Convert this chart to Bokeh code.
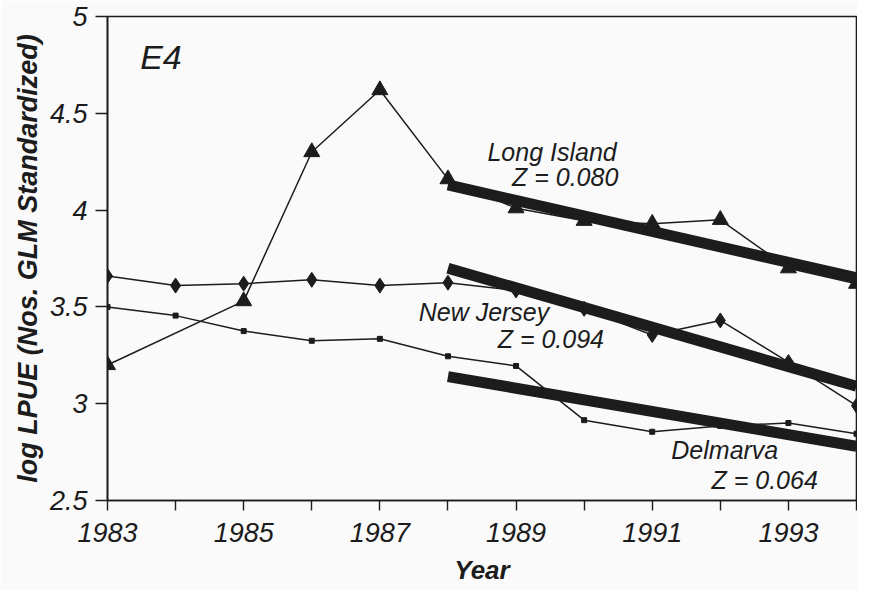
from bokeh.plotting import figure
from bokeh.models import Range1d, FixedTicker, Label
from bokeh.embed import file_html
from bokeh.resources import INLINE

# ---- data ----
years = [1983, 1984, 1985, 1986, 1987, 1988, 1989, 1990, 1991, 1992, 1993, 1994]

li_years = [1983, 1985, 1986, 1987, 1988, 1989, 1990, 1991, 1992, 1993, 1994]
long_island = [3.20, 3.53, 4.30, 4.62, 4.16, 4.01, 3.945, 3.93, 3.95, 3.70, 3.62]

new_jersey = [3.66, 3.61, 3.62, 3.64, 3.61, 3.625, 3.585, 3.49, 3.355, 3.43, 3.215, 2.99]

delmarva = [3.50, 3.455, 3.375, 3.325, 3.335, 3.245, 3.195, 2.915, 2.855, 2.885, 2.90, 2.845]

fit_years = [1988, 1994]
li_fit = [4.13, 3.65]
nj_fit = [3.70, 3.09]
dm_fit = [3.14, 2.78]

x_tick_vals = years
x_tick_labels = ["1983", "", "1985", "", "1987", "", "1989", "", "1991", "", "1993", ""]
y_tick_vals = [2.5, 3, 3.5, 4, 4.5, 5]
y_tick_labels = ["2.5", "3", "3.5", "4", "4.5", "5"]

FONT = "Liberation Sans"
INK = "#1c1c1c"
BG = "#fafafa"

p = figure(width=857, height=590, output_backend="svg", toolbar_location=None,
           x_range=Range1d(1983, 1994), y_range=Range1d(2.5, 5),
           min_border_left=107, min_border_right=1, min_border_top=16, min_border_bottom=90)
p.background_fill_color = BG
p.border_fill_color = BG
p.grid.visible = False
p.outline_line_color = INK
p.outline_line_width = 1.6

# axes
p.xaxis.ticker = FixedTicker(ticks=x_tick_vals)
p.xaxis.major_label_overrides = {v: l for v, l in zip(x_tick_vals, x_tick_labels)}
p.yaxis.ticker = FixedTicker(ticks=y_tick_vals)
p.yaxis.major_label_overrides = {v: l for v, l in zip(y_tick_vals, y_tick_labels)}
for ax in (p.xaxis, p.yaxis):
    ax.axis_line_color = INK
    ax.axis_line_width = 1.6
    ax.major_tick_line_color = INK
    ax.major_tick_line_width = 1.4
    ax.major_tick_in = 0
    ax.minor_tick_line_color = None
    ax.major_label_text_font = FONT
    ax.major_label_text_font_style = "italic"
    ax.major_label_text_font_size = "27px"
    ax.major_label_text_color = INK
    ax.axis_label_text_font = FONT
    ax.axis_label_text_font_style = "bold italic"
    ax.axis_label_text_color = INK
p.xaxis.axis_label_text_font_size = "26px"
p.yaxis.axis_label_text_font_size = "27px"
p.xaxis.major_tick_out = 10
p.yaxis.major_tick_out = 12
p.xaxis.major_label_standoff = 12
p.yaxis.major_label_standoff = 8
p.xaxis.axis_label = "Year"
p.xaxis.axis_label_standoff = 10
p.yaxis.axis_label = "log LPUE (Nos. GLM Standardized)"
p.yaxis.axis_label_standoff = 4

# thin series lines
p.line(li_years, long_island, line_color=INK, line_width=1.5)
p.line(years, new_jersey, line_color=INK, line_width=1.5)
p.line(years, delmarva, line_color=INK, line_width=1.5)

# regression lines
for fit in (li_fit, nj_fit, dm_fit):
    p.line(fit_years, fit, line_color=INK, line_width=11)

# markers
p.scatter(li_years, long_island, marker="triangle", size=16, fill_color=INK, line_color=INK)
p.scatter(years, new_jersey, marker="diamond", size=15, fill_color=INK, line_color=INK)
p.scatter(years, delmarva, marker="square", size=5, fill_color=INK, line_color=INK)

# annotations
def lab(x, y, t, size="25px"):
    p.add_layout(Label(x=x, y=y, text=t, text_font=FONT, text_font_style="italic",
                       text_font_size=size, text_color=INK, text_baseline="middle",
                       text_align="left"))

lab(1983.48, 4.79, "E4", "34px")
lab(1988.58, 4.30, "Long Island")
lab(1988.94, 4.17, "Z = 0.080")
lab(1987.57, 3.475, "New Jersey")
lab(1988.73, 3.335, "Z = 0.094")
lab(1991.28, 2.76, "Delmarva")
lab(1991.87, 2.606, "Z = 0.064")

open("out.html", "w").write(file_html(p, INLINE))
